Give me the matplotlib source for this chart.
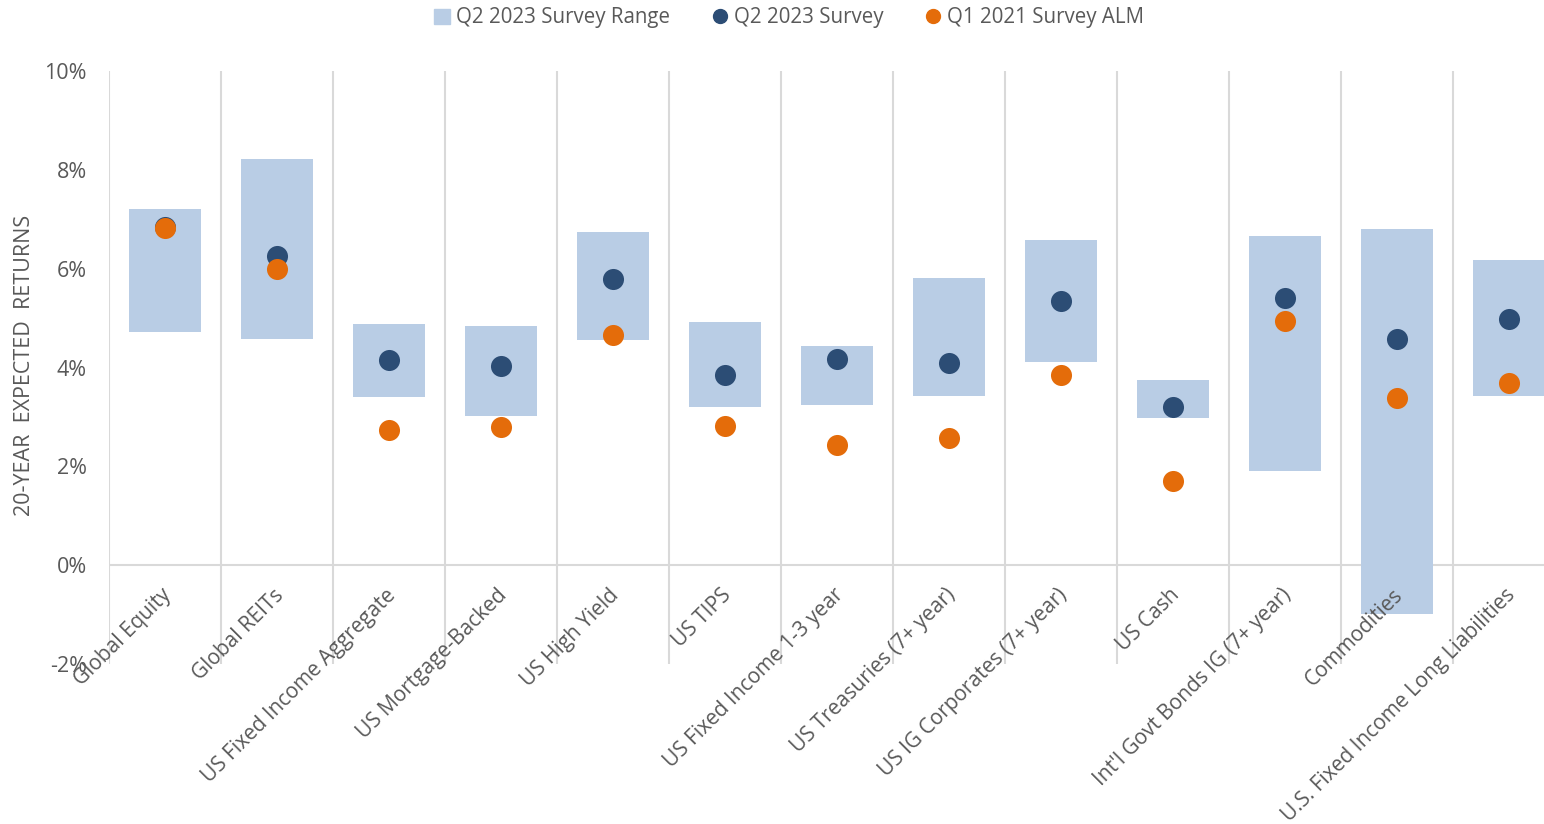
import matplotlib.pyplot as plt
from matplotlib.lines import Line2D
from matplotlib.patches import Patch

categories = ["Global Equity", "Global REITs", "US Fixed Income Aggregate", "US Mortgage-Backed",
              "US High Yield", "US TIPS", "US Fixed Income 1-3 year", "US Treasuries (7+ year)",
              "US IG Corporates (7+ year)", "US Cash", "Int'l Govt Bonds IG (7+ year)", "Commodities",
              "U.S. Fixed Income Long Liabilities"]
range_high = [7.21, 8.21, 4.88, 4.84, 6.75, 4.92, 4.44, 5.82, 6.57, 3.75, 6.67, 6.81, 6.18]
range_low = [4.72, 4.58, 3.40, 3.02, 4.56, 3.20, 3.24, 3.42, 4.11, 2.98, 1.90, -0.99, 3.42]
survey_q2_2023 = [6.85, 6.26, 4.15, 4.03, 5.80, 3.85, 4.17, 4.09, 5.35, 3.20, 5.41, 4.58, 4.98]
survey_q1_2021 = [6.83, 6.00, 2.74, 2.80, 4.66, 2.82, 2.43, 2.57, 3.85, 1.70, 4.94, 3.38, 3.69]
y_ticks = [-2, 0, 2, 4, 6, 8, 10]

BAR = "#B9CDE5"
DARK = "#2C4D75"
ORANGE = "#E46C0A"
TEXT = "#595959"
GRID = "#D9D9D9"

plt.rcParams['font.family'] = ['Open Sans', 'DejaVu Sans']

fig = plt.figure(figsize=(15.44, 8.24), dpi=100)
ax = fig.add_axes([109 / 1544, 1 - 664 / 824, 1456 / 1544, (664 - 71) / 824])

x = list(range(len(categories)))
heights = [h - l for h, l in zip(range_high, range_low)]
ax.bar(x, heights, bottom=range_low, width=0.65, color=BAR, zorder=2)
ax.scatter(x, survey_q2_2023, s=230, color=DARK, zorder=3, linewidths=0)
ax.scatter(x, survey_q1_2021, s=230, color=ORANGE, zorder=4, linewidths=0)

ax.set_xlim(-0.5, len(categories) - 0.5)
ax.set_ylim(-2, 10)

# category separators
for b in range(len(categories) + 1):
    ax.vlines(b - 0.5, -2, 10, color=GRID, lw=1.5, zorder=1)
ax.axhline(0, color=GRID, lw=1.5, zorder=1)

for s in ax.spines.values():
    s.set_visible(False)

ax.set_xticks([])
ax.set_yticks(y_ticks)
ax.set_yticklabels([f"{t}%" for t in y_ticks])
ax.tick_params(axis='y', length=0, pad=16, labelsize=15.5, labelcolor=TEXT)

# labels hang from the 0% line, like the excel axis crossing
for i, name in enumerate(categories):
    ax.annotate(name, xy=(i, 0), xytext=(-3, -14), textcoords='offset points',
                rotation=45, ha='right', va='top', rotation_mode='anchor',
                fontsize=15, color=TEXT, annotation_clip=False)

fig.text(25 / 1544, 1 - 365 / 824, "20-YEAR  EXPECTED  RETURNS", rotation=90,
         ha='center', va='center', fontsize=15.5, color=TEXT)

handles = [
    Patch(color=BAR, label="Q2 2023 Survey Range"),
    Line2D([], [], marker='o', ls='', color=DARK, markersize=10, label="Q2 2023 Survey"),
    Line2D([], [], marker='o', ls='', color=ORANGE, markersize=10, label="Q1 2021 Survey ALM"),
]
leg = fig.legend(handles=handles, loc='center', bbox_to_anchor=(789 / 1544, 1 - 18 / 824), ncol=3,
                 frameon=False, fontsize=14.8, handlelength=0.8, handletextpad=0.3, columnspacing=2.0,
                 labelcolor=TEXT)

fig.savefig("out.png", dpi=100)
